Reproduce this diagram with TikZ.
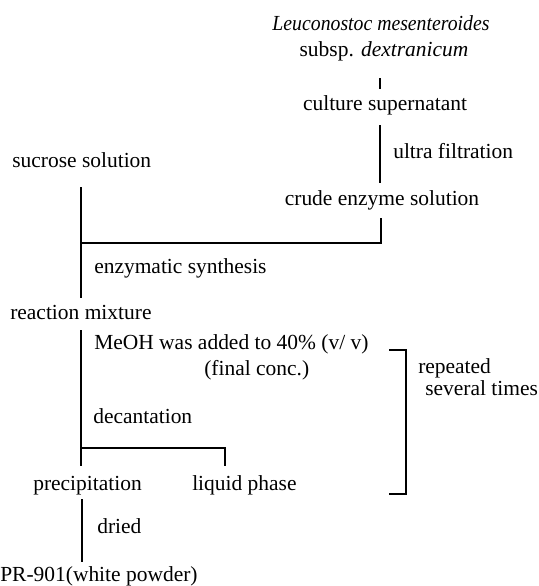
\documentclass[tikz,border=0pt]{standalone}
\usepackage{fontspec}
\setmainfont{Liberation Serif}
\usetikzlibrary{positioning}

\begin{document}
\begin{tikzpicture}[x=0.75pt,y=-0.75pt,
    lbl/.style={font=\fontsize{16.1}{19}\selectfont, inner sep=0pt, anchor=mid west},
    stage/.style={lbl, anchor=mid},
    flow/.style={line width=0.9pt}]
  \useasboundingbox (0,0) rectangle (539,586);

  % Enzyme source
  \node[stage] (strain) at (381,27) {\scalebox{0.92}[1]{\itshape Leuconostoc mesenteroides}};
  \node[stage] (subsp) at (384,53) {subsp. \textit{dextranicum}};
  \node[stage] (culture) at (385,107) {culture supernatant};
  \node[lbl] (uf) at (393,155) {ultra filtration};
  \node[stage] (crude) at (382,202) {crude enzyme solution};

  % Substrate and synthesis
  \node[lbl] (sucrose) at (12,164) {sucrose solution};
  \node[lbl] (synth) at (94,270) {enzymatic synthesis};
  \node[lbl] (mixture) at (10,316) {reaction mixture};

  % MeOH precipitation
  \node[lbl] (meoh) at (94,346) {MeOH was added to 40\% (v/ v)};
  \node[lbl] (conc) at (204,372) {(final conc.)};
  \node[lbl] (decant) at (93,420) {decantation};
  \node[lbl] (precip) at (33,487) {precipitation};
  \node[lbl] (liquid) at (192,487) {liquid phase};
  \node[lbl] (repeat) at (418,370) {repeated};
  \node[lbl] (times) at (425,392) {several times};

  % Drying
  \node[lbl] (dried) at (97,530) {dried};
  \node[lbl] (product) at (0,578) {PR-901(white powder)};

  % line ends
  \coordinate (s1) at (380,78);
  \coordinate (s2) at (380,89);
  \coordinate (c1) at (380,125);
  \coordinate (c2) at (380,183);
  \coordinate (e1) at (381,218);
  \coordinate (j1) at (381,243);
  \coordinate (u1) at (81,187);
  \coordinate (u2) at (81,298);
  \coordinate (m1) at (81,330);
  \coordinate (m2) at (81,466);
  \coordinate (d1) at (81,448);
  \coordinate (d2) at (225,448);
  \coordinate (d3) at (225,466);
  \coordinate (b1) at (389,350);
  \coordinate (b2) at (406,350);
  \coordinate (b3) at (406,494);
  \coordinate (b4) at (389,494);
  \coordinate (p1) at (82,499);
  \coordinate (p2) at (82,562);

  \draw[flow] (s1) -- (s2);
  \draw[flow] (c1) -- (c2);
  \draw[flow] (e1) -- (j1) -- (u2 |- j1);
  \draw[flow] (u1) -- (u2);
  \draw[flow] (m1) -- (m2);
  \draw[flow] (d1) -- (d2) -- (d3);
  \draw[flow] (b1) -- (b2) -- (b3) -- (b4);
  \draw[flow] (p1) -- (p2);
\end{tikzpicture}
\end{document}
